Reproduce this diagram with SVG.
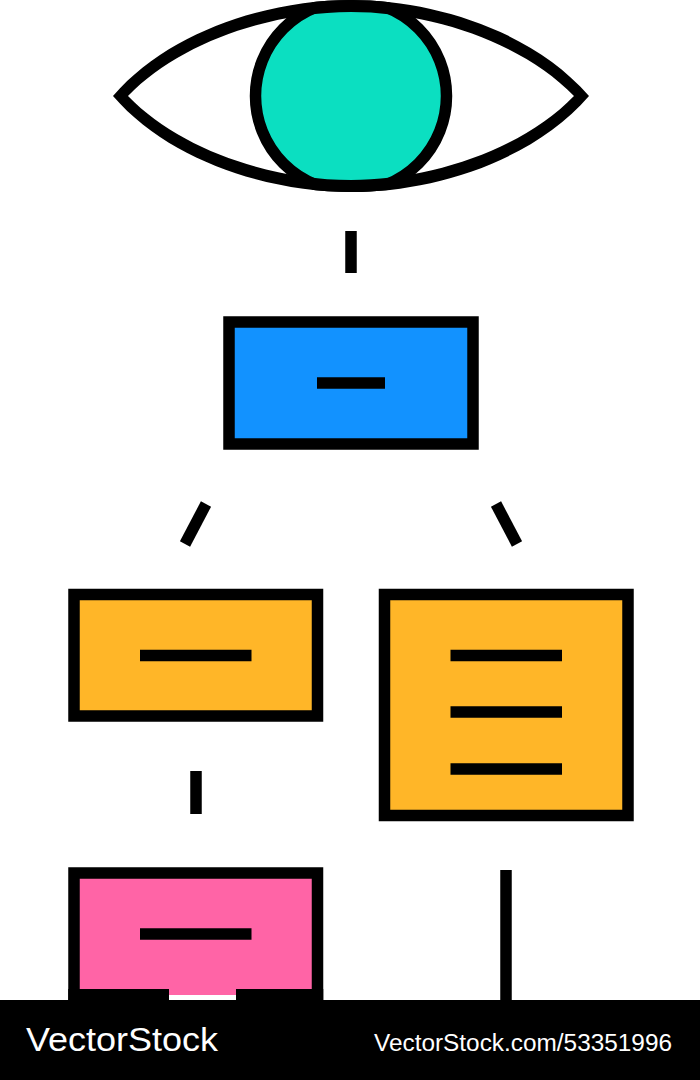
<svg xmlns="http://www.w3.org/2000/svg" width="700" height="1080" viewBox="0 0 700 1080">
<defs>
<clipPath id="eye-clip"><path d="M113 96C170 30 270 0 351 0C432 0 532 30 589 96C532 162 432 192 351 192C270 192 170 162 113 96Z"/></clipPath>
</defs>
<style>
.o{stroke:#000;stroke-width:11.500;stroke-linejoin:miter}
.l{stroke:#000;stroke-width:11.500;fill:none}
.w{font-family:"Liberation Sans",Arial,sans-serif;fill:#fff}
</style>
<rect width="700" height="1080" fill="#fff"/>
<g id="eye">
<path fill="#fff" d="M113 96C170 30 270 0 351 0C432 0 532 30 589 96C532 162 432 192 351 192C270 192 170 162 113 96Z"/>
<circle class="o" cx="351" cy="96" r="95.500" fill="#0bdfc1" clip-path="url(#eye-clip)"/>
<path d="M113 96C170 30 270 0 351 0C432 0 532 30 589 96C532 162 432 192 351 192C270 192 170 162 113 96ZM128 96C180 150 272 180 351 180C430 180 522 150 574 96C522 42 430 12 351 12C272 12 180 42 128 96Z" fill="#000" fill-rule="evenodd"/>
</g>
<g id="connectors">
<path class="l" d="M351 231V273"/>
<path class="l" d="M206 504L185 544"/>
<path class="l" d="M496 504L517 544"/>
<path class="l" d="M196 771V814"/>
<path class="l" d="M506 870V1000"/>
</g>
<g id="node-blue">
<rect class="o" x="229" y="322" width="244" height="122" fill="#1292ff"/>
<path class="l" d="M317 383H385"/>
</g>
<g id="node-orange-left">
<rect class="o" x="74" y="594.500" width="243.500" height="121.500" fill="#ffb628"/>
<path class="l" d="M140 655.500H251.500"/>
</g>
<g id="node-orange-right">
<rect class="o" x="384.500" y="594.500" width="243.500" height="221" fill="#ffb628"/>
<path class="l" d="M450.500 655.500H562M450.500 712H562M450.500 769H562"/>
</g>
<g id="node-pink">
<rect class="o" x="74" y="873" width="243.500" height="140" fill="#ff64a6"/>
<path class="l" d="M140 934H251.500"/>
<rect x="68.250" y="989" width="100.750" height="11" fill="#000"/>
<rect x="236" y="989" width="87.250" height="11" fill="#000"/>
<rect x="169" y="989" width="67" height="6" fill="#ff64a6"/>
<rect x="169" y="995" width="67" height="5" fill="#fff"/>
</g>
<g id="footer">
<rect x="0" y="1000" width="700" height="80" fill="#000"/>
<text class="w" x="26" y="1051" font-size="34" textLength="192" lengthAdjust="spacingAndGlyphs">VectorStock</text>
<text class="w" x="374" y="1051" font-size="23" textLength="298" lengthAdjust="spacingAndGlyphs">VectorStock.com/53351996</text>
</g>
</svg>
